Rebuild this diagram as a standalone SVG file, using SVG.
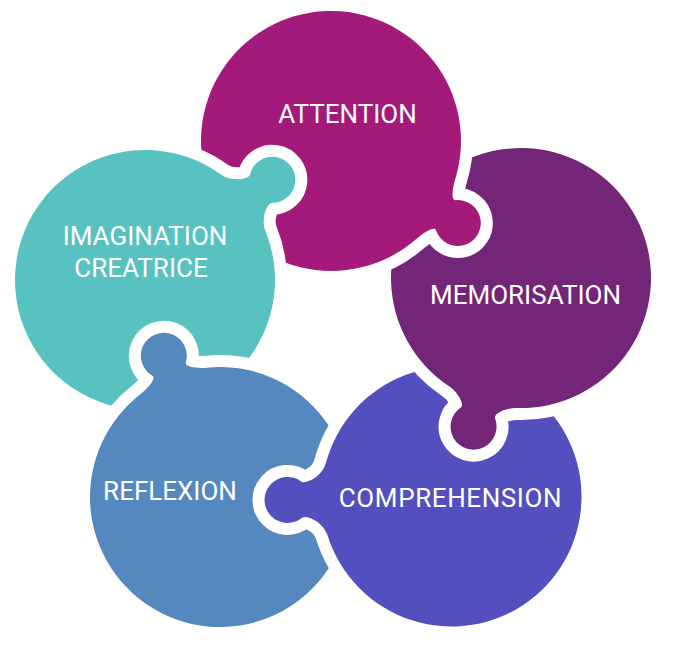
<svg xmlns="http://www.w3.org/2000/svg" width="678" height="668" viewBox="0 0 678 668">
<defs>
<style>
.piece { stroke:#ffffff; stroke-width:24; stroke-linejoin:round; paint-order:stroke; }
.lbl { font-family: Roboto, "Liberation Sans", sans-serif; font-size:26px; fill:#ffffff; text-anchor:middle; }
</style>
<path id="tab151" d="M124.9 -36 A130 130 0 1 0 124.9 36 C127.7 26.4 132.8 14.9 136.7 18 A23 23 0 1 0 136.7 -18 C132.8 -14.9 127.7 -26.4 124.9 -36 Z"/>
<path id="tab152" d="M124.9 -36 A130 130 0 1 0 124.9 36 C127.7 26.4 133.8 14.9 137.7 18 A23 23 0 1 0 137.7 -18 C133.8 -14.9 127.7 -26.4 124.9 -36 Z"/>
<path id="tab156" d="M124.9 -36 A130 130 0 1 0 124.9 36 C128.0 25.1 137.8 14.9 141.7 18 A23 23 0 1 0 141.7 -18 C137.8 -14.9 128.0 -25.1 124.9 -36 Z"/>
<path id="tab162" d="M124.9 -36 A130 130 0 1 0 124.9 36 C128.6 23.2 143.8 14.9 147.7 18 A23 23 0 1 0 147.7 -18 C143.8 -14.9 128.6 -23.2 124.9 -36 Z"/>
<path id="tab164" d="M124.9 -36 A130 130 0 1 0 124.9 36 C128.8 22.5 145.8 14.9 149.7 18 A23 23 0 1 0 149.7 -18 C145.8 -14.9 128.8 -22.5 124.9 -36 Z"/>
<clipPath id="clipRT"><rect x="0" y="290" width="300" height="155"/></clipPath>
</defs>
<rect x="0" y="0" width="678" height="668" fill="#ffffff"/>
<g id="connectors"></g>
<g id="reflexion">
<use href="#tab152" class="piece" fill="#5488BE" transform="translate(220,497) rotate(-111.7)"/>
<text class="lbl" x="170" y="500">REFLEXION</text>
</g>
<g id="comprehension">
<use href="#tab164" class="piece" fill="#534FBE" transform="translate(451.5,496.5) rotate(178.8)"/>
<text class="lbl" x="450.5" y="507" letter-spacing="0.6">COMPREHENSION</text>
</g>
<g id="memorisation">
<use href="#tab156" class="piece" fill="#732577" transform="translate(521,278) rotate(107.7)"/>
<text class="lbl" x="525.5" y="304">MEMORISATION</text>
</g>
<g id="attention">
<use href="#tab151" class="piece" fill="#A31A7B" transform="translate(331,141) rotate(32.9)"/>
<text class="lbl" x="347.5" y="123">ATTENTION</text>
</g>
<g id="imagination">
<use href="#tab162" class="piece" fill="#58C2C1" transform="translate(145,280) rotate(-38.2)"/>
<text class="lbl" x="145" y="245">IMAGINATION</text>
<text class="lbl" x="141" y="277">CREATRICE</text>
</g>
<g id="reflexion-overlap" clip-path="url(#clipRT)">
<use href="#tab152" class="piece" fill="#5488BE" transform="translate(220,497) rotate(-111.7)"/>
</g>
</svg>
